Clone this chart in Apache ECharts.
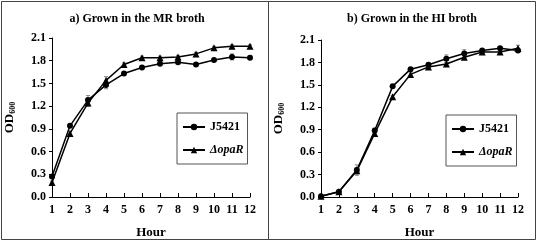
<!DOCTYPE html>
<html>
<head>
<meta charset="utf-8">
<script src="https://cdn.jsdelivr.net/npm/echarts@6/dist/echarts.min.js"></script>
<style>
  html, body { margin: 0; padding: 0; background: #fff; }
  #chart { width: 537px; height: 244px; }
</style>
</head>
<body>
<div id="chart"></div>
<script>
// hours 1..12
var hours = [1, 2, 3, 4, 5, 6, 7, 8, 9, 10, 11, 12];
// a) MR broth
var mrWild = [0.27, 0.94, 1.28, 1.48, 1.63, 1.71, 1.76, 1.78, 1.75, 1.81, 1.85, 1.84];
var mrMutant = [0.19, 0.84, 1.24, 1.54, 1.75, 1.84, 1.84, 1.85, 1.89, 1.97, 1.99, 1.99];
var mrWildErr = [0.02, 0.02, 0.06, 0.05, 0.02, 0.02, 0.02, 0.02, 0.02, 0.02, 0.04, 0.02];
var mrMutantErr = [0.02, 0.03, 0.04, 0.05, 0.02, 0.02, 0.02, 0.02, 0.02, 0.02, 0.02, 0.02];
// b) HI broth
var hiWild = [0.01, 0.07, 0.36, 0.89, 1.48, 1.71, 1.77, 1.85, 1.92, 1.96, 1.99, 1.96];
var hiMutant = [0.01, 0.07, 0.35, 0.85, 1.34, 1.64, 1.74, 1.78, 1.87, 1.94, 1.94, 1.99];
var hiWildErr = [0.01, 0.01, 0.07, 0.03, 0.02, 0.02, 0.02, 0.05, 0.05, 0.02, 0.02, 0.02];
var hiMutantErr = [0.01, 0.01, 0.04, 0.04, 0.02, 0.02, 0.02, 0.02, 0.02, 0.02, 0.02, 0.04];
var yTicks = [0, 0.3, 0.6, 0.9, 1.2, 1.5, 1.8, 2.1];
var titles = ['a) Grown in the MR broth', 'b) Grown in the HI broth'];
var names = ['J5421', '\u0394opaR'];

var font = 'Liberation Serif';
var chart = echarts.init(document.getElementById('chart'));

function pairs(ys) {
	return hours.map(function (h, i) { return [h, ys[i]]; });
}

function xAxis(idx) {
	return {
		type: 'value', gridIndex: idx, min: hours[0], max: hours[hours.length - 1], interval: 1,
		name: 'Hour', nameLocation: 'middle', nameGap: 29,
		nameTextStyle: { fontFamily: font, fontWeight: 'bold', fontSize: 13, color: '#000' },
		axisLine: { lineStyle: { color: '#000', width: 1 } },
		axisTick: { inside: true, length: 4, lineStyle: { color: '#000' } },
		axisLabel: { fontFamily: font, fontWeight: 'bold', fontSize: 12, color: '#000', margin: 7 },
		splitLine: { show: false }
	};
}

function yAxis(idx) {
	return {
		type: 'value', gridIndex: idx, min: yTicks[0], max: yTicks[yTicks.length - 1], interval: 0.3,
		name: '{a|OD}{b|600}', nameLocation: 'middle', nameGap: 35, nameRotate: 90,
		nameTextStyle: {
			color: '#000',
			rich: {
				a: { fontFamily: font, fontWeight: 'bold', fontSize: 13, color: '#000' },
				b: { fontFamily: font, fontWeight: 'bold', fontSize: 8, color: '#000', padding: [6, 0, 0, 0] }
			}
		},
		axisLine: { show: true, lineStyle: { color: '#000', width: 1 } },
		axisTick: { show: true, length: 3, lineStyle: { color: '#000' } },
		axisLabel: {
			fontFamily: font, fontWeight: 'bold', fontSize: 12, color: '#000', margin: 6,
			formatter: function (v) { return v.toFixed(1); }
		},
		splitLine: { show: false }
	};
}

function series(idx, name, ys, symbol, size) {
	return {
		name: name, type: 'line', xAxisIndex: idx, yAxisIndex: idx, z: 3,
		data: pairs(ys), symbol: symbol, symbolSize: size,
		lineStyle: { color: '#000', width: 1.5 },
		itemStyle: { color: '#000' },
		animation: false
	};
}

// error bars drawn through the axis scales
function errors(idx, ys, errs) {
	return {
		type: 'custom', xAxisIndex: idx, yAxisIndex: idx, z: 2, silent: true,
		data: hours.map(function (h, i) { return [h, ys[i] - errs[i], ys[i] + errs[i]]; }),
		renderItem: function (params, api) {
			var lo = api.coord([api.value(0), api.value(1)]);
			var hi = api.coord([api.value(0), api.value(2)]);
			var w = 2;
			var st = { stroke: '#888', lineWidth: 1, fill: null };
			return {
				type: 'group',
				children: [
					{ type: 'line', shape: { x1: lo[0], y1: lo[1], x2: hi[0], y2: hi[1] }, style: st },
					{ type: 'line', shape: { x1: lo[0] - w, y1: lo[1], x2: lo[0] + w, y2: lo[1] }, style: st },
					{ type: 'line', shape: { x1: hi[0] - w, y1: hi[1], x2: hi[0] + w, y2: hi[1] }, style: st }
				]
			};
		},
		animation: false
	};
}

function legend(left, top) {
	return {
		left: left, top: top, orient: 'vertical',
		padding: [8, 4, 8, 5], itemGap: 11, itemWidth: 22, itemHeight: 8,
		borderColor: '#555', borderWidth: 1,
		textStyle: { fontFamily: font, fontWeight: 'bold', fontSize: 12, color: '#000' },
		data: [
			{ name: names[0] },
			{ name: names[1], textStyle: { fontStyle: 'italic' } }
		]
	};
}

var option = {
	backgroundColor: '#fff',
	animation: false,
	title: [
		{ text: titles[0], left: 132, top: 8, textAlign: 'center',
			textStyle: { fontFamily: font, fontWeight: 'bold', fontSize: 12, color: '#000' } },
		{ text: titles[1], left: 407, top: 8, textAlign: 'center',
			textStyle: { fontFamily: font, fontWeight: 'bold', fontSize: 12, color: '#000' } }
	],
	graphic: [
		{ type: 'rect', shape: { x: 1.5, y: 1.5, width: 267, height: 238 },
			style: { fill: 'none', stroke: '#444', lineWidth: 1 } },
		{ type: 'rect', shape: { x: 268.5, y: 1.5, width: 267, height: 238 },
			style: { fill: 'none', stroke: '#444', lineWidth: 1 } }
	],
	legend: [legend(177, 113), legend(446, 115)],
	grid: [
		{ left: 52, top: 38, width: 198, height: 162 },
		{ left: 321, top: 40, width: 197, height: 160 }
	],
	xAxis: [xAxis(0), xAxis(1)],
	yAxis: [yAxis(0), yAxis(1)],
	series: [
		errors(0, mrWild, mrWildErr),
		errors(0, mrMutant, mrMutantErr),
		errors(1, hiWild, hiWildErr),
		errors(1, hiMutant, hiMutantErr),
		series(0, names[0], mrWild, 'circle', 6),
		series(0, names[1], mrMutant, 'triangle', 7),
		series(1, names[0], hiWild, 'circle', 6),
		series(1, names[1], hiMutant, 'triangle', 7)
	]
};

chart.setOption(option);
window.onresize = function () {
	chart.resize();
};
</script>
</body>
</html>
